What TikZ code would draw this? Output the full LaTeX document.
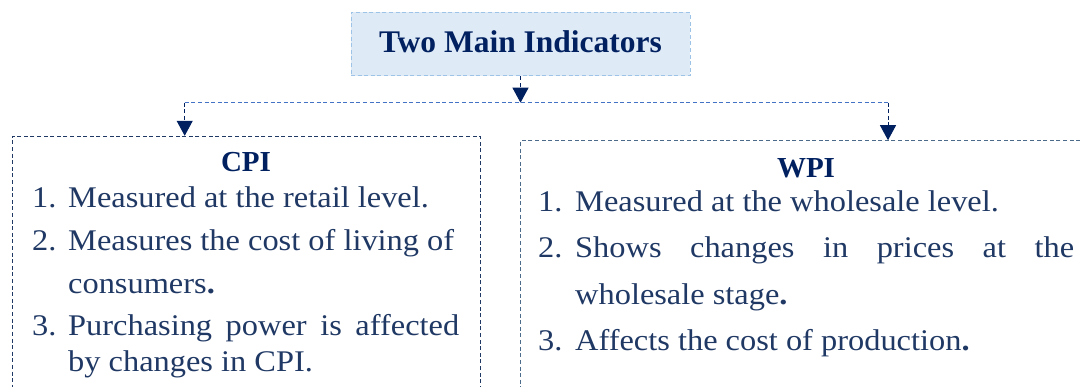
\documentclass[tikz,border=0pt]{standalone}
\usepackage{fontspec}
\setmainfont{Liberation Serif}
\newfontfamily\bodyfont[FakeStretch=1.08]{Liberation Serif}
\usetikzlibrary{arrows.meta}
\definecolor{navy}{HTML}{002060}
\definecolor{bodyblue}{HTML}{1F3864}
\definecolor{lightfill}{HTML}{DEEAF6}
\definecolor{lightedge}{HTML}{9DC3E6}
\definecolor{midblue}{HTML}{4472C4}
\definecolor{grayblue}{HTML}{4C6B8A}
\tikzset{
  mydash/.style={dash pattern=on 4pt off 2.6pt, line width=1pt},
  topstyle/.style={draw=lightedge, fill=lightfill, mydash, inner sep=0pt,
    minimum width=339pt, minimum height=63.5pt, text height=22pt, text depth=6pt,
    font=\fontsize{31.5}{34}\selectfont\bfseries, text=navy},
  boxstyle/.style={mydash, inner sep=0pt, anchor=north west},
  stub/.style={draw=navy, mydash, -{Triangle[width=16pt,length=15pt]}, shorten >=0pt},
  hline/.style={draw=midblue, mydash},
  head/.style={anchor=base, inner sep=0pt, font=\fontsize{29}{30}\selectfont\bfseries, text=navy},
  num/.style={anchor=base west, inner sep=0pt, font=\bodyfont\fontsize{30}{30}\selectfont, text=bodyblue},
  txt/.style={anchor=base west, inner sep=0pt, font=\bodyfont\fontsize{30}{30}\selectfont, text=bodyblue},
}
\begin{document}
\begin{tikzpicture}[x=1pt,y=-1pt]
\useasboundingbox (0,0) rectangle (1083,387);
\clip (0,0) rectangle (1083,387);
% top box
\node[topstyle] (topbox) at (520.5,44.2) {Two Main Indicators};
% boxes
\node[boxstyle, draw=bodyblue, minimum width=468.3pt, minimum height=300pt] (cpibox) at (11.7,135.8) {};
\node[boxstyle, draw=grayblue, minimum width=572pt, minimum height=300pt] (wpibox) at (520,140.2) {};
% connectors
\coordinate (jm) at (520.5,102.7);
\coordinate (jl) at (184.7,102.7);
\coordinate (jr) at (888,102.7);
\draw[hline] (jl) -- (jr);
\draw[stub] (topbox.south) -- (jm);
\draw[stub] (jl) -- (jl |- cpibox.north);
\draw[stub] (jr) -- (jr |- wpibox.north);
% CPI text
\node[head] (cpih) at (246,172) {CPI};
\node[num] (c1n) at (32,208) {1.};
\node[txt] (c1) at (68,208) {Measured at the retail level.};
\node[num] (c2n) at (32,251) {2.};
\node[txt] (c2) at (68,251) {Measures the cost of living of};
\node[txt] (c2b) at (68,293) {consumers\textbf{.}};
\node[num] (c3n) at (32,335) {3.};
\node[txt] (c3) at (68,335) {\makebox[391pt][s]{Purchasing power is affected}};
\node[txt] (c3b) at (68,371) {by changes in CPI.};
% WPI text
\node[head] (wpih) at (806,177.7) {WPI};
\node[num] (w1n) at (538,212) {1.};
\node[txt] (w1) at (575,212) {Measured at the wholesale level.};
\node[num] (w2n) at (538,258) {2.};
\node[txt] (w2) at (575,258) {\makebox[499pt][s]{Shows changes in prices at the}};
\node[txt] (w2b) at (575,304) {wholesale stage\textbf{.}};
\node[num] (w3n) at (538,350) {3.};
\node[txt] (w3) at (575,350) {Affects the cost of production\textbf{.}};
\end{tikzpicture}
\end{document}
